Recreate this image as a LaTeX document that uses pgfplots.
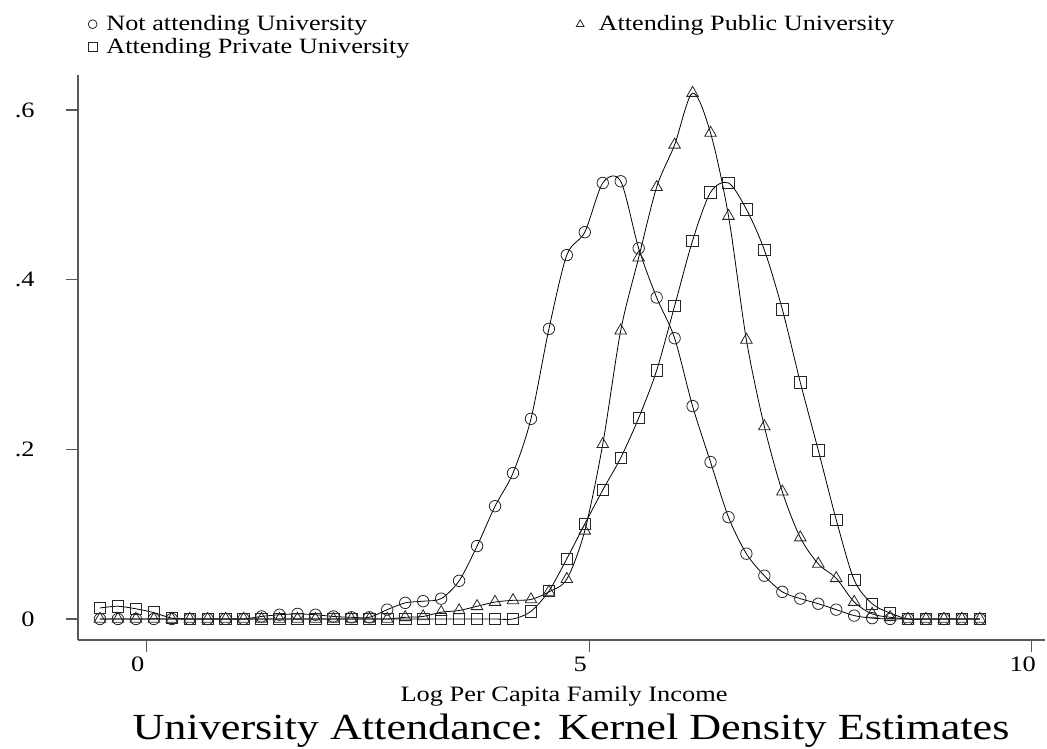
\documentclass[border=0pt]{standalone}
\usepackage{pgfplots}
\usepackage{pgfplotstable}
\pgfplotsset{compat=1.18}
\usepackage{fontspec}
\setmainfont[FakeStretch=1.2]{Liberation Serif}

\pgfplotstableread{
x c t s
-0.528 0 0 0.013
-0.325 0 0 0.015
-0.122 0 0 0.012
0.081 0 0 0.0075
0.284 0 0 0.001
0.487 0 0 0
0.689 0 0 0
0.892 0 0 0
1.095 0 0 0
1.298 0.003 0 0
1.501 0.005 0 0
1.704 0.006 0 0
1.907 0.005 0 0
2.110 0.003 0 0
2.313 0.002 0 0
2.516 0.002 0 0
2.718 0.011 0 0
2.921 0.019 0.002 0
3.124 0.021 0.003 0
3.327 0.024 0.008 0
3.530 0.045 0.010 0
3.733 0.086 0.015 0
3.936 0.133 0.020 0
4.139 0.172 0.022 0
4.342 0.236 0.023 0.009
4.545 0.342 0.032 0.033
4.747 0.429 0.047 0.071
4.950 0.456 0.104 0.112
5.153 0.514 0.206 0.152
5.356 0.516 0.340 0.190
5.559 0.437 0.426 0.237
5.762 0.379 0.509 0.293
5.965 0.331 0.559 0.369
6.168 0.251 0.620 0.446
6.371 0.185 0.573 0.503
6.574 0.120 0.475 0.514
6.776 0.077 0.329 0.483
6.979 0.051 0.227 0.435
7.182 0.032 0.150 0.365
7.385 0.024 0.096 0.279
7.588 0.018 0.065 0.199
7.791 0.011 0.048 0.117
7.994 0.004 0.020 0.046
8.197 0.001 0.006 0.018
8.400 0 0.002 0.007
8.603 0 0 0
8.805 0 0 0
9.008 0 0 0
9.211 0 0 0
9.414 0 0 0
}\data

\begin{document}
\begin{tikzpicture}
\path[use as bounding box] (0,0) rectangle (785.25pt,561.75pt);
\begin{axis}[
  at={(58.5pt,81.75pt)}, anchor=south west,
  scale only axis, width=725.25pt, height=423.75pt,
  xmin=-0.776, xmax=10.15, ymin=-0.02476, ymax=0.6413,
  axis x line=bottom, axis y line=left,
  axis line style={-, black!65, line width=0.8pt},
  xtick={0,5,10}, ytick={0,0.2,0.4,0.6}, yticklabels={0,.2,.4,.6},
  tick align=outside, major tick length=9pt,
  tick style={black!65, line width=0.8pt},
  /pgf/number format/assume math mode=true,
  tick label style={font=\fontsize{16.5pt}{18pt}\selectfont},
  xticklabel style={xshift=-6.75pt},
  yticklabel style={anchor=east, xshift=-20pt},
  legend columns=2,
  legend cell align=left,
  legend style={draw=none, fill=none, at={(0.0062,1.115)}, anchor=north west,
    font=\fontsize{16.4pt}{18pt}\selectfont,
    /tikz/every odd column/.append style={column sep=5pt},
    /tikz/every even column/.append style={column sep=0pt}, row sep=0pt},
  legend image code/.code={\draw[mark size=3.3pt] plot coordinates {(0pt,0pt)};},
  clip=false,
]
\addplot[black, line width=0.6pt, smooth, mark=o, mark size=4.3pt,
  mark options={black!85, line width=0.6pt, solid}] table[x=x,y=c]{\data};
\addlegendentry{\makebox[350.5pt][l]{Not attending University}}
\addplot[black, line width=0.6pt, smooth, mark=triangle, mark size=5pt,
  mark options={black!85, line width=0.6pt, solid}] table[x=x,y=t]{\data};
\addlegendentry{\hspace{4pt}Attending Public University}
\addplot[black, line width=0.6pt, smooth, mark=square, mark size=4.3pt,
  mark options={black!85, line width=0.6pt, solid}] table[x=x,y=s]{\data};
\addlegendentry{Attending Private University}
\end{axis}
\node[anchor=base, font=\fontsize{16.5pt}{18pt}\selectfont] at (423pt,35.25pt) {Log Per Capita Family Income};
\node[anchor=base, font=\fontsize{27.6pt}{30pt}\selectfont] at (428.25pt,6.75pt) {University Attendance: Kernel Density Estimates};
\end{tikzpicture}
\end{document}
